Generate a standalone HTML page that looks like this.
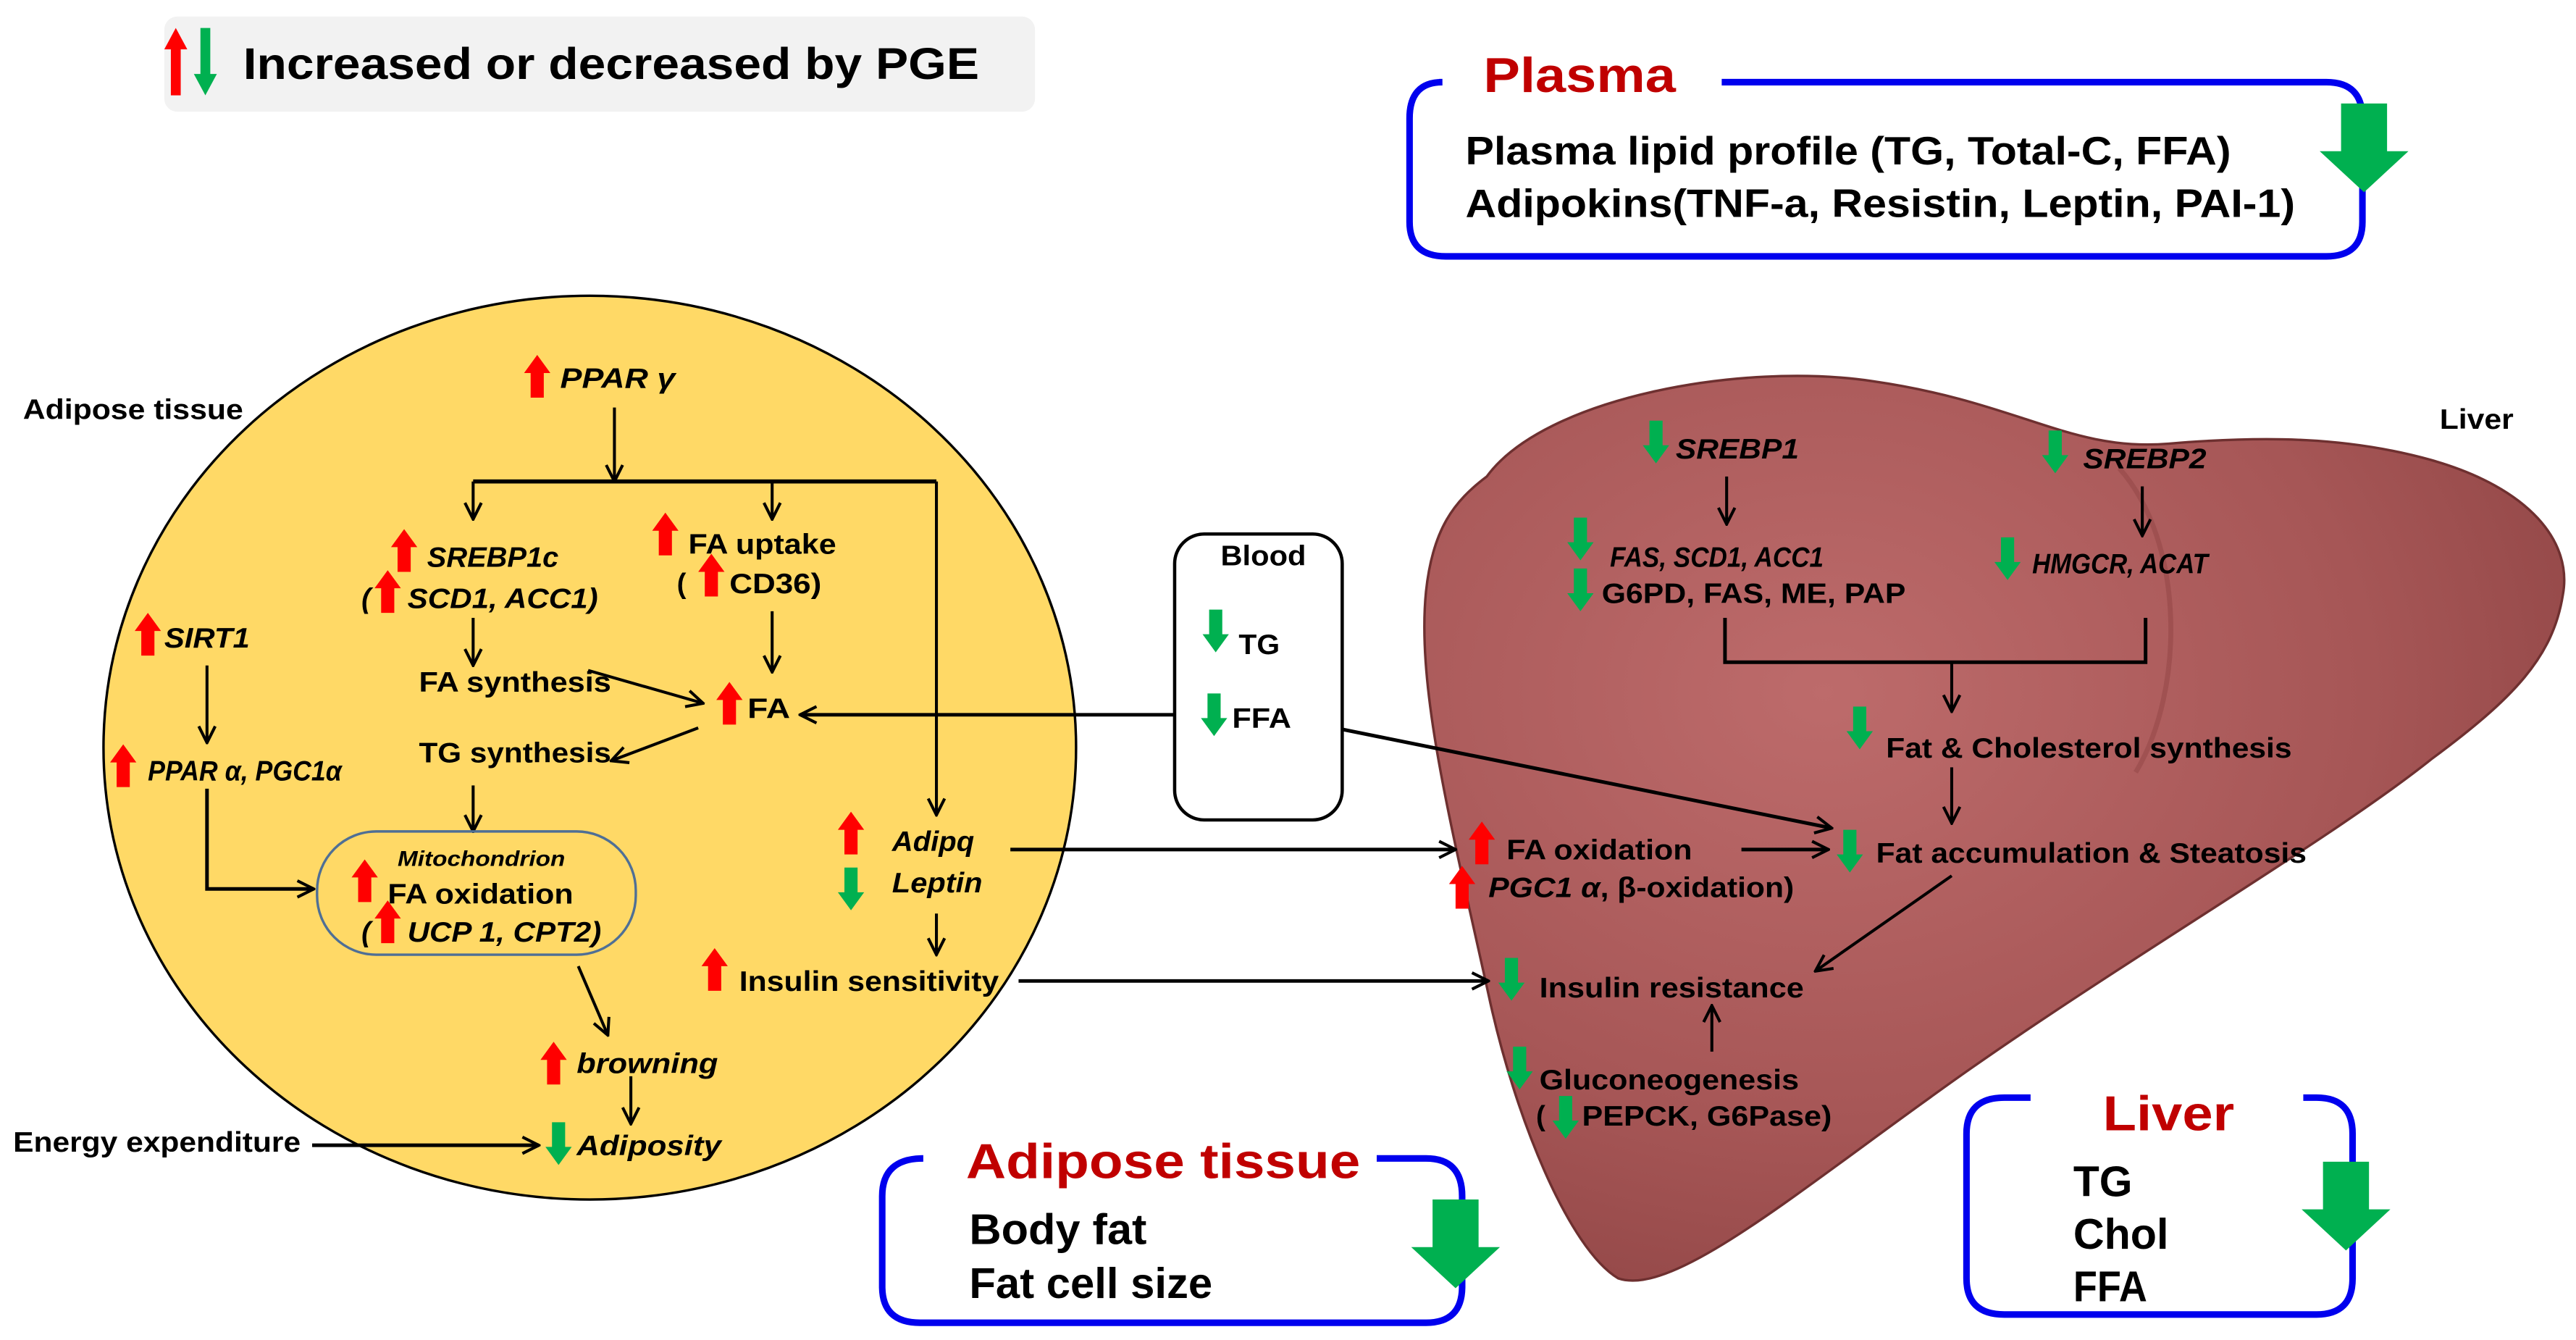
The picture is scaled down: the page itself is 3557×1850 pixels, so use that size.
<!DOCTYPE html>
<html><head><meta charset="utf-8"><style>
html,body{margin:0;padding:0;background:#fff;}
svg{display:block;}
text{font-family:"Liberation Sans Narrow","Liberation Sans",sans-serif;font-weight:bold;fill:#000;}
.i{font-style:italic;}
</style></head><body>
<svg width="3557" height="1850" viewBox="0 0 1568 815.5" xmlns="http://www.w3.org/2000/svg">
<defs>
<marker id="a" viewBox="0 0 12 12" refX="11" refY="6" markerWidth="12" markerHeight="12" markerUnits="userSpaceOnUse" orient="auto">
<path d="M1,1 L11,6 L1,11" fill="none" stroke="#000" stroke-width="1.8"/></marker>
<polygon id="up" points="0,0 8,11 4,11 4,26 -4,26 -4,11 -8,11" fill="#ff0000"/>
<polygon id="dn" points="0,26 8,15 4,15 4,0 -4,0 -4,15 -8,15" fill="#00b050"/>
<polygon id="big" points="-14,0 14,0 14,29 27,29 0,54 -27,29 -14,29" fill="#00b050"/>
<radialGradient id="lg" cx="0.35" cy="0.35" r="0.8">
<stop offset="0" stop-color="#bd6b6b"/><stop offset="0.6" stop-color="#a65656"/><stop offset="1" stop-color="#8c4242"/></radialGradient>
</defs>
<!-- legend -->
<rect x="100" y="10" width="530" height="58" rx="8" fill="#f2f2f2"/>
<polygon points="107,17 114,30 110,30 110,58 104,58 104,30 100,30" fill="#ff0000"/>
<polygon points="125,58 132,45 128,45 128,17 122,17 122,45 118,45" fill="#00b050"/>
<text x="148" y="48" font-size="27" textLength="448" lengthAdjust="spacingAndGlyphs">Increased  or  decreased  by  PGE</text>
<!-- plasma -->
<path d="M876,50 L878,50 Q858,50 858,72 L858,135 Q858,156 880,156 L1416,156 Q1438,156 1438,135 L1438,72 Q1438,50 1416,50 L1048,50" fill="none" stroke="#0000ee" stroke-width="4"/>
<text x="903" y="56" font-size="30" style="fill:#c00000" textLength="117" lengthAdjust="spacingAndGlyphs">Plasma</text>
<text x="892" y="100" font-size="24" textLength="466" lengthAdjust="spacingAndGlyphs">Plasma lipid profile (TG, Total-C, FFA)</text>
<text x="892" y="132" font-size="24" textLength="505" lengthAdjust="spacingAndGlyphs">Adipokins(TNF-a, Resistin, Leptin, PAI-1)</text>
<use href="#big" x="1439" y="63"/>
<!-- liver -->
<path d="M905,290 C940,242 1060,220 1140,232 C1230,245 1260,275 1320,270 C1380,265 1430,266 1480,280 C1540,297 1566,330 1560,362 C1554,400 1530,425 1480,462 C1420,510 1300,580 1200,650 C1100,720 1020,790 985,778 C955,760 922,680 906,605 C884,505 862,420 868,360 C872,322 885,305 905,290 Z" fill="url(#lg)" stroke="#6e3030" stroke-width="1.5"/>
<path d="M1290,285 C1330,330 1330,420 1300,470" fill="none" stroke="#8a3e3e" stroke-width="3" opacity="0.4"/>
<text x="1485" y="261" font-size="17" textLength="45" lengthAdjust="spacingAndGlyphs">Liver</text>
<!-- adipose circle -->
<ellipse cx="359" cy="455" rx="296" ry="275" fill="#ffd966" stroke="#000" stroke-width="1.5"/>
<text x="14" y="255" font-size="17" textLength="134" lengthAdjust="spacingAndGlyphs">Adipose tissue</text>
<use href="#up" x="327" y="216"/>
<text x="341" y="236" font-size="17" class="i" textLength="70" lengthAdjust="spacingAndGlyphs">PPAR γ</text>
<g stroke="#000" stroke-width="1.8" fill="none">
<line x1="374" y1="248" x2="374" y2="293" marker-end="url(#a)"/>
<polyline points="288,293 570,293" stroke-width="2.5"/>
<line x1="288" y1="293" x2="288" y2="316" marker-end="url(#a)"/>
<line x1="470" y1="293" x2="470" y2="316" marker-end="url(#a)"/>
<line x1="570" y1="293" x2="570" y2="496" marker-end="url(#a)"/>
<line x1="288" y1="376" x2="288" y2="405" marker-end="url(#a)"/>
<line x1="470" y1="372" x2="470" y2="409" marker-end="url(#a)"/>
<line x1="358" y1="408" x2="428" y2="428" marker-end="url(#a)"/>
<line x1="425" y1="443" x2="372" y2="463" marker-end="url(#a)"/>
<line x1="288" y1="478" x2="288" y2="506" marker-end="url(#a)"/>
<line x1="126" y1="405" x2="126" y2="452" marker-end="url(#a)"/>
<polyline points="126,480 126,541 191,541" marker-end="url(#a)" stroke-width="2.2"/>
<line x1="570" y1="556" x2="570" y2="581" marker-end="url(#a)"/>
<line x1="352" y1="588" x2="370" y2="630" marker-end="url(#a)"/>
<line x1="384" y1="655" x2="384" y2="684" marker-end="url(#a)"/>
<line x1="190" y1="697" x2="328" y2="697" marker-end="url(#a)" stroke-width="2.2"/>
<line x1="725" y1="435" x2="487" y2="435" marker-end="url(#a)" stroke-width="2.2"/>
<line x1="778" y1="436" x2="1115" y2="504" marker-end="url(#a)" stroke-width="2.2"/>
<line x1="615" y1="517" x2="886" y2="517" marker-end="url(#a)" stroke-width="2.2"/>
<line x1="620" y1="597" x2="906" y2="597" marker-end="url(#a)" stroke-width="2.2"/>
<line x1="1051" y1="290" x2="1051" y2="319" marker-end="url(#a)"/>
<line x1="1304" y1="296" x2="1304" y2="326" marker-end="url(#a)"/>
<polyline points="1050,376 1050,403 1306,403 1306,376" stroke-width="2.2"/>
<line x1="1188" y1="403" x2="1188" y2="433" marker-end="url(#a)"/>
<line x1="1188" y1="467" x2="1188" y2="501" marker-end="url(#a)"/>
<line x1="1060" y1="517" x2="1113" y2="517" marker-end="url(#a)" stroke-width="2.2"/>
<line x1="1188" y1="533" x2="1105" y2="591" marker-end="url(#a)"/>
<line x1="1042" y1="640" x2="1042" y2="612" marker-end="url(#a)"/>
</g>
<use href="#up" x="246" y="322"/>
<text x="260" y="345" font-size="17" class="i" textLength="80" lengthAdjust="spacingAndGlyphs">SREBP1c</text>
<use href="#up" x="236" y="347"/>
<text x="220" y="370" font-size="17" class="i">(</text>
<text x="248" y="370" font-size="17" class="i" textLength="116" lengthAdjust="spacingAndGlyphs">SCD1, ACC1)</text>
<use href="#up" x="405" y="312"/>
<text x="419" y="337" font-size="17" textLength="90" lengthAdjust="spacingAndGlyphs">FA uptake</text>
<use href="#up" x="433" y="337"/>
<text x="412" y="361" font-size="17">(</text>
<text x="444" y="361" font-size="17" textLength="56" lengthAdjust="spacingAndGlyphs">CD36)</text>
<text x="255" y="421" font-size="17" textLength="117" lengthAdjust="spacingAndGlyphs">FA synthesis</text>
<use href="#up" x="444" y="415"/>
<text x="455" y="437" font-size="17" textLength="26" lengthAdjust="spacingAndGlyphs">FA</text>
<text x="255" y="464" font-size="17" textLength="117" lengthAdjust="spacingAndGlyphs">TG synthesis</text>
<use href="#up" x="90" y="373"/>
<text x="100" y="394" font-size="17" class="i" textLength="52" lengthAdjust="spacingAndGlyphs">SIRT1</text>
<use href="#up" x="75" y="453"/>
<text x="90" y="475" font-size="17" class="i" textLength="118" lengthAdjust="spacingAndGlyphs">PPAR α, PGC1α</text>
<rect x="193" y="506" width="194" height="75" rx="36" fill="none" stroke="#4f6f95" stroke-width="1.5"/>
<text x="242" y="527" font-size="13" class="i" textLength="102" lengthAdjust="spacingAndGlyphs">Mitochondrion</text>
<use href="#up" x="222" y="523"/>
<text x="236" y="550" font-size="17" textLength="113" lengthAdjust="spacingAndGlyphs">FA oxidation</text>
<use href="#up" x="236" y="548"/>
<text x="220" y="573" font-size="17" class="i">(</text>
<text x="248" y="573" font-size="17" class="i" textLength="118" lengthAdjust="spacingAndGlyphs">UCP 1, CPT2)</text>
<use href="#up" x="518" y="494"/>
<text x="543" y="518" font-size="17" class="i" textLength="50" lengthAdjust="spacingAndGlyphs">Adipq</text>
<use href="#dn" x="518" y="528"/>
<text x="543" y="543" font-size="17" class="i" textLength="55" lengthAdjust="spacingAndGlyphs">Leptin</text>
<use href="#up" x="435" y="577"/>
<text x="450" y="603" font-size="17" textLength="158" lengthAdjust="spacingAndGlyphs">Insulin sensitivity</text>
<use href="#up" x="337" y="634"/>
<text x="351" y="653" font-size="17" class="i" textLength="86" lengthAdjust="spacingAndGlyphs">browning</text>
<use href="#dn" x="340" y="683"/>
<text x="351" y="703" font-size="17" class="i" textLength="88" lengthAdjust="spacingAndGlyphs">Adiposity</text>
<text x="8" y="701" font-size="17" textLength="175" lengthAdjust="spacingAndGlyphs">Energy expenditure</text>
<!-- blood -->
<rect x="715" y="325" width="102" height="174" rx="18" fill="#fff" stroke="#000" stroke-width="2"/>
<text x="743" y="344" font-size="17" textLength="52" lengthAdjust="spacingAndGlyphs">Blood</text>
<use href="#dn" x="740" y="371"/>
<text x="754" y="398" font-size="17" textLength="25" lengthAdjust="spacingAndGlyphs">TG</text>
<use href="#dn" x="739" y="422"/>
<text x="750" y="443" font-size="17" textLength="36" lengthAdjust="spacingAndGlyphs">FFA</text>
<!-- liver texts -->
<use href="#dn" x="1008" y="256"/>
<text x="1020" y="279" font-size="17" class="i" textLength="75" lengthAdjust="spacingAndGlyphs">SREBP1</text>
<use href="#dn" x="1251" y="262"/>
<text x="1268" y="285" font-size="17" class="i" textLength="75" lengthAdjust="spacingAndGlyphs">SREBP2</text>
<use href="#dn" x="962" y="315"/>
<text x="980" y="345" font-size="17" class="i" textLength="130" lengthAdjust="spacingAndGlyphs">FAS, SCD1, ACC1</text>
<use href="#dn" x="962" y="346"/>
<text x="975" y="367" font-size="17" textLength="185" lengthAdjust="spacingAndGlyphs">G6PD, FAS, ME, PAP</text>
<use href="#dn" x="1222" y="327"/>
<text x="1237" y="349" font-size="17" class="i" textLength="107" lengthAdjust="spacingAndGlyphs">HMGCR, ACAT</text>
<use href="#dn" x="1132" y="430"/>
<text x="1148" y="461" font-size="17" textLength="247" lengthAdjust="spacingAndGlyphs">Fat &amp; Cholesterol synthesis</text>
<use href="#dn" x="1126" y="505"/>
<text x="1142" y="525" font-size="17" textLength="262" lengthAdjust="spacingAndGlyphs">Fat accumulation &amp; Steatosis</text>
<use href="#up" x="902" y="500"/>
<text x="917" y="523" font-size="17" textLength="113" lengthAdjust="spacingAndGlyphs">FA oxidation</text>
<use href="#up" x="890" y="527"/>
<text x="906" y="546" font-size="17" textLength="186" lengthAdjust="spacingAndGlyphs"><tspan class="i">PGC1 α</tspan>, β-oxidation)</text>
<use href="#dn" x="920" y="583"/>
<text x="937" y="607" font-size="17" textLength="161" lengthAdjust="spacingAndGlyphs">Insulin resistance</text>
<use href="#dn" x="925" y="637"/>
<text x="937" y="663" font-size="17" textLength="158" lengthAdjust="spacingAndGlyphs">Gluconeogenesis</text>
<use href="#dn" x="953" y="667"/>
<text x="935" y="685" font-size="17">(</text>
<text x="963" y="685" font-size="17" textLength="152" lengthAdjust="spacingAndGlyphs">PEPCK, G6Pase)</text>
<!-- adipose result box -->
<path d="M562,705 Q537,705 537,728 L537,783 Q537,805 560,805 L868,805 Q890,805 890,783 L890,728 Q890,705 868,705 L838,705" fill="none" stroke="#0000ee" stroke-width="4"/>
<text x="588" y="717" font-size="30" style="fill:#c00000" textLength="240" lengthAdjust="spacingAndGlyphs">Adipose tissue</text>
<text x="590" y="757" font-size="26" textLength="108" lengthAdjust="spacingAndGlyphs">Body fat</text>
<text x="590" y="790" font-size="26" textLength="148" lengthAdjust="spacingAndGlyphs">Fat cell size</text>
<use href="#big" x="886" y="730"/>
<!-- liver result box -->
<path d="M1236,668 L1220,668 Q1197,668 1197,690 L1197,778 Q1197,800 1220,800 L1410,800 Q1432,800 1432,778 L1432,690 Q1432,668 1410,668 L1402,668" fill="none" stroke="#0000ee" stroke-width="4"/>
<text x="1280" y="688" font-size="30" style="fill:#c00000" textLength="80" lengthAdjust="spacingAndGlyphs">Liver</text>
<text x="1262" y="728" font-size="26" textLength="36" lengthAdjust="spacingAndGlyphs">TG</text>
<text x="1262" y="760" font-size="26" textLength="58" lengthAdjust="spacingAndGlyphs">Chol</text>
<text x="1262" y="792" font-size="26" textLength="45" lengthAdjust="spacingAndGlyphs">FFA</text>
<use href="#big" x="1428" y="707"/>
</svg>
</body></html>
